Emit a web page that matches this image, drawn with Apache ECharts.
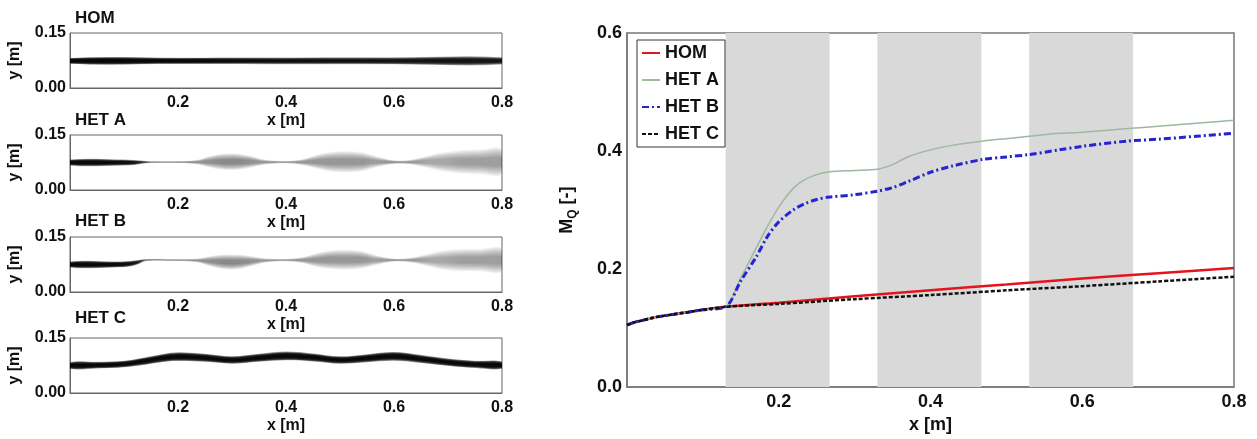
<!DOCTYPE html>
<html><head><meta charset="utf-8">
<script src="https://cdn.jsdelivr.net/npm/echarts@6/dist/echarts.min.js"></script>
<style>html,body{margin:0;padding:0;background:#fff}#c{width:1257px;height:439px}</style>
</head><body><div id="c"></div>
<script>
const FONT = 'Liberation Sans, Arial, sans-serif';

// ---- right chart: M_Q vs x ----
const seriesNames = ['HOM', 'HET A', 'HET B', 'HET C'];
const homX  = [0, 0.01, 0.02, 0.04, 0.06, 0.08, 0.10, 0.13, 0.2, 0.3, 0.4, 0.5, 0.6, 0.7, 0.8];
const homY  = [0.105, 0.110, 0.113, 0.119, 0.123, 0.127, 0.131, 0.136, 0.143, 0.154, 0.164, 0.174, 0.184, 0.193, 0.202];
const hetCX = [0, 0.01, 0.02, 0.04, 0.06, 0.08, 0.10, 0.13, 0.2, 0.3, 0.4, 0.5, 0.6, 0.7, 0.8];
const hetCY = [0.105, 0.110, 0.113, 0.119, 0.123, 0.127, 0.131, 0.136, 0.141, 0.149, 0.156, 0.164, 0.171, 0.179, 0.187];
const hetAX = [0, 0.01, 0.02, 0.04, 0.06, 0.08, 0.10, 0.13, 0.15, 0.17, 0.185, 0.20, 0.22, 0.235, 0.25, 0.267, 0.30, 0.33, 0.35, 0.37, 0.40, 0.43, 0.47, 0.50, 0.53, 0.57, 0.60, 0.66, 0.70, 0.75, 0.80];
const hetAY = [0.105, 0.110, 0.113, 0.119, 0.123, 0.127, 0.131, 0.136, 0.185, 0.235, 0.272, 0.305, 0.338, 0.352, 0.360, 0.365, 0.367, 0.369, 0.377, 0.390, 0.402, 0.410, 0.417, 0.421, 0.425, 0.430, 0.432, 0.438, 0.442, 0.447, 0.452];
const hetBX = [0, 0.01, 0.02, 0.04, 0.06, 0.08, 0.10, 0.13, 0.15, 0.17, 0.185, 0.20, 0.22, 0.235, 0.25, 0.267, 0.30, 0.33, 0.35, 0.37, 0.40, 0.43, 0.47, 0.50, 0.53, 0.57, 0.60, 0.66, 0.70, 0.75, 0.80];
const hetBY = [0.105, 0.110, 0.113, 0.119, 0.123, 0.127, 0.131, 0.136, 0.180, 0.220, 0.255, 0.280, 0.301, 0.311, 0.318, 0.322, 0.326, 0.332, 0.338, 0.348, 0.364, 0.375, 0.386, 0.390, 0.394, 0.402, 0.408, 0.417, 0.420, 0.425, 0.430];
const bandStart = [0.13, 0.33, 0.53];
const bandEnd   = [0.267, 0.467, 0.667];

// ---- left panels: plume fields (x, centre y, half width, darkness) ----
const panelTitles = ['HOM', 'HET A', 'HET B', 'HET C'];
const homPX = [0, 0.2, 0.4, 0.6, 0.8];
const homPC = [0.074, 0.074, 0.074, 0.074, 0.074];
const homPW = [0.008, 0.0085, 0.009, 0.0095, 0.010];
const homPD = [0.98, 0.97, 0.95, 0.93, 0.92];

const aPX = [0, 0.10, 0.12, 0.135, 0.15, 0.20, 0.235, 0.26, 0.285, 0.31, 0.335, 0.36, 0.40, 0.43, 0.455, 0.48, 0.51, 0.54, 0.565, 0.60, 0.63, 0.66, 0.69, 0.72, 0.76, 0.80];
const aPC = [0.075, 0.075, 0.075, 0.076, 0.076, 0.076, 0.076, 0.077, 0.077, 0.077, 0.077, 0.076, 0.076, 0.076, 0.077, 0.077, 0.077, 0.077, 0.077, 0.076, 0.076, 0.077, 0.077, 0.077, 0.077, 0.077];
const aPW = [0.008, 0.008, 0.0065, 0.004, 0.0025, 0.0025, 0.006, 0.016, 0.022, 0.022, 0.016, 0.007, 0.003, 0.008, 0.018, 0.026, 0.029, 0.026, 0.016, 0.005, 0.006, 0.016, 0.026, 0.031, 0.034, 0.035];
const aPD = [0.97, 0.96, 0.93, 0.8, 0.55, 0.5, 0.45, 0.45, 0.47, 0.47, 0.45, 0.42, 0.45, 0.4, 0.4, 0.4, 0.42, 0.4, 0.38, 0.45, 0.4, 0.35, 0.35, 0.37, 0.37, 0.37];

const bPX = [0, 0.08, 0.11, 0.125, 0.14, 0.20, 0.235, 0.26, 0.285, 0.31, 0.335, 0.36, 0.40, 0.43, 0.455, 0.48, 0.51, 0.54, 0.565, 0.60, 0.63, 0.66, 0.69, 0.72, 0.76, 0.80];
const bPC = [0.075, 0.075, 0.077, 0.081, 0.087, 0.087, 0.086, 0.084, 0.082, 0.082, 0.084, 0.086, 0.087, 0.087, 0.087, 0.088, 0.088, 0.088, 0.087, 0.087, 0.087, 0.087, 0.087, 0.087, 0.087, 0.087];
const bPW = [0.008, 0.008, 0.0075, 0.006, 0.003, 0.0025, 0.005, 0.014, 0.020, 0.020, 0.014, 0.006, 0.003, 0.008, 0.018, 0.025, 0.027, 0.024, 0.014, 0.004, 0.006, 0.016, 0.026, 0.030, 0.031, 0.032];
const bPD = [0.97, 0.97, 0.95, 0.9, 0.55, 0.5, 0.45, 0.45, 0.47, 0.47, 0.45, 0.42, 0.45, 0.4, 0.4, 0.4, 0.42, 0.4, 0.38, 0.45, 0.4, 0.35, 0.35, 0.37, 0.37, 0.37];

const cPX = [0, 0.05, 0.10, 0.13, 0.17, 0.20, 0.25, 0.30, 0.35, 0.40, 0.45, 0.50, 0.55, 0.60, 0.65, 0.70, 0.75, 0.80];
const cPC = [0.075, 0.076, 0.079, 0.085, 0.095, 0.099, 0.096, 0.090, 0.096, 0.101, 0.097, 0.090, 0.095, 0.100, 0.093, 0.084, 0.078, 0.076];
const cPW = [0.009, 0.009, 0.009, 0.010, 0.011, 0.012, 0.011, 0.010, 0.011, 0.012, 0.011, 0.010, 0.011, 0.012, 0.011, 0.010, 0.010, 0.010];
const cPD = [0.97, 0.97, 0.97, 0.97, 0.97, 0.97, 0.97, 0.97, 0.97, 0.97, 0.97, 0.97, 0.97, 0.97, 0.97, 0.97, 0.97, 0.97];

const plumes = [
  [homPX, homPC, homPW, homPD],
  [aPX, aPC, aPW, aPD],
  [bPX, bPC, bPW, bPD],
  [cPX, cPC, cPW, cPD]
];

const panelTops = [33, 135, 237, 338];
const titleTops = [10, 112, 213, 310];

const chart = echarts.init(document.getElementById('c'), null, {renderer: 'canvas'});
const zip = (xs, ys) => xs.map((x, i) => [x, ys[i]]);
const bold = (size) => ({fontFamily: FONT, fontWeight: 'bold', fontSize: size, color: '#111'});

function plumeRenderer(p) {
  const [px, pc, pw, pd] = p;
  const N = 12;
  return function (params, api) {
    if (params.dataIndex !== 0) return null;
    const children = [];
    const span = px[px.length - 1] - px[0];
    for (let k = 0; k < N; k++) {
      const f = 1 - 0.72 * k / (N - 1);
      const top = [], bot = [];
      for (let i = 0; i < px.length; i++) {
        top.push(api.coord([px[i], pc[i] + f * pw[i]]));
        bot.push(api.coord([px[i], pc[i] - f * pw[i]]));
      }
      const pts = top.concat(bot.reverse());
      const stops = px.map((x, i) => ({
        offset: (x - px[0]) / span,
        color: 'rgba(0,0,0,' + (1 - Math.pow(1 - pd[i], 1 / N)).toFixed(4) + ')'
      }));
      children.push({
        type: 'polygon',
        shape: {points: pts, smooth: 0.35},
        style: {fill: new echarts.graphic.LinearGradient(0, 0, 1, 0, stops)}
      });
    }
    return {type: 'group', children};
  };
}

const grids = [], xAxes = [], yAxes = [], series = [], titles = [];
for (let i = 0; i < 4; i++) {
  grids.push({left: 70, top: panelTops[i], width: 432, height: 55, show: true, borderColor: '#666', borderWidth: 1});
  xAxes.push({
    type: 'value', gridIndex: i, min: 0, max: 0.8, interval: 0.2,
    axisLine: {lineStyle: {color: '#666'}}, axisTick: {show: false}, splitLine: {show: false},
    axisLabel: {...bold(16), margin: 7, formatter: v => v === 0 ? '' : v.toFixed(1)},
    name: 'x [m]', nameLocation: 'middle', nameGap: 25, nameTextStyle: bold(16)
  });
  yAxes.push({
    type: 'value', gridIndex: i, min: 0, max: 0.15, interval: 0.15,
    axisLine: {lineStyle: {color: '#666'}}, axisTick: {show: false}, splitLine: {show: false},
    axisLabel: {...bold(16), margin: 4, formatter: v => v.toFixed(2)},
    name: 'y [m]', nameLocation: 'middle', nameGap: 47, nameTextStyle: bold(16)
  });
  titles.push({text: panelTitles[i], left: 75, top: titleTops[i], padding: 0, textStyle: bold(17)});
  series.push({
    type: 'custom', name: panelTitles[i] + ' field', xAxisIndex: i, yAxisIndex: i, clip: true,
    renderItem: plumeRenderer(plumes[i]),
    data: plumes[i][0].map((x, j) => [x, plumes[i][1][j]]),
    silent: true
  });
}

// right chart
grids.push({left: 627, top: 33, width: 607, height: 360, show: true, borderColor: '#777', borderWidth: 1.5});
xAxes.push({
  type: 'value', gridIndex: 4, min: 0, max: 0.8, interval: 0.2,
  axisLine: {lineStyle: {color: '#777', width: 1.5}}, axisTick: {show: false}, splitLine: {show: false},
  axisLabel: {...bold(18), margin: 6, formatter: v => v === 0 ? '' : v.toFixed(1)},
  name: 'x [m]', nameLocation: 'middle', nameGap: 14, nameTextStyle: bold(18)
});
yAxes.push({
  type: 'value', gridIndex: 4, min: 0, max: 0.6, interval: 0.2,
  axisLine: {lineStyle: {color: '#777', width: 1.5}}, axisTick: {show: false}, splitLine: {show: false},
  axisLabel: {...bold(18), margin: 5, formatter: v => v.toFixed(1)},
  name: '{m|M}{q|Q}{m| [-]}', nameLocation: 'middle', nameGap: 48,
  nameTextStyle: {
    rich: {
      m: {...bold(18), lineHeight: 24},
      q: {...bold(12), lineHeight: 12, verticalAlign: 'bottom'}
    }
  }
});

series.push({
  type: 'line', name: 'bands', xAxisIndex: 4, yAxisIndex: 4, data: [], silent: true, z: 1,
  markArea: {
    silent: true,
    itemStyle: {color: '#d9d9d9'},
    data: bandStart.map((s, i) => [{xAxis: s}, {xAxis: bandEnd[i]}])
  }
});
const lineDefs = [
  {name: 'HOM',   data: zip(homX, homY),   color: '#e3141c', width: 2.5, type: 'solid'},
  {name: 'HET A', data: zip(hetAX, hetAY), color: '#9fb89f', width: 1.5, type: 'solid'},
  {name: 'HET B', data: zip(hetBX, hetBY), color: '#2424d0', width: 3,   type: [7, 3, 2, 3]},
  {name: 'HET C', data: zip(hetCX, hetCY), color: '#111111', width: 2.5, type: [4, 2]}
];
lineDefs.forEach(d => series.push({
  type: 'line', name: d.name, xAxisIndex: 4, yAxisIndex: 4, data: d.data,
  symbol: 'none', smooth: 0.3, z: 3,
  itemStyle: {color: d.color},
  lineStyle: {color: d.color, width: d.width, type: d.type}
}));

chart.setOption({
  animation: false,
  backgroundColor: '#fff',
  title: titles,
  grid: grids,
  xAxis: xAxes,
  yAxis: yAxes,
  legend: {
    data: seriesNames, left: 637, top: 40, orient: 'vertical',
    itemWidth: 18, itemHeight: 14, itemGap: 9, padding: [4, 6, 4, 4],
    itemStyle: {opacity: 0},
    borderColor: '#333', borderWidth: 1, backgroundColor: '#fff',
    textStyle: bold(18)
  },
  series
});
</script></body></html>
